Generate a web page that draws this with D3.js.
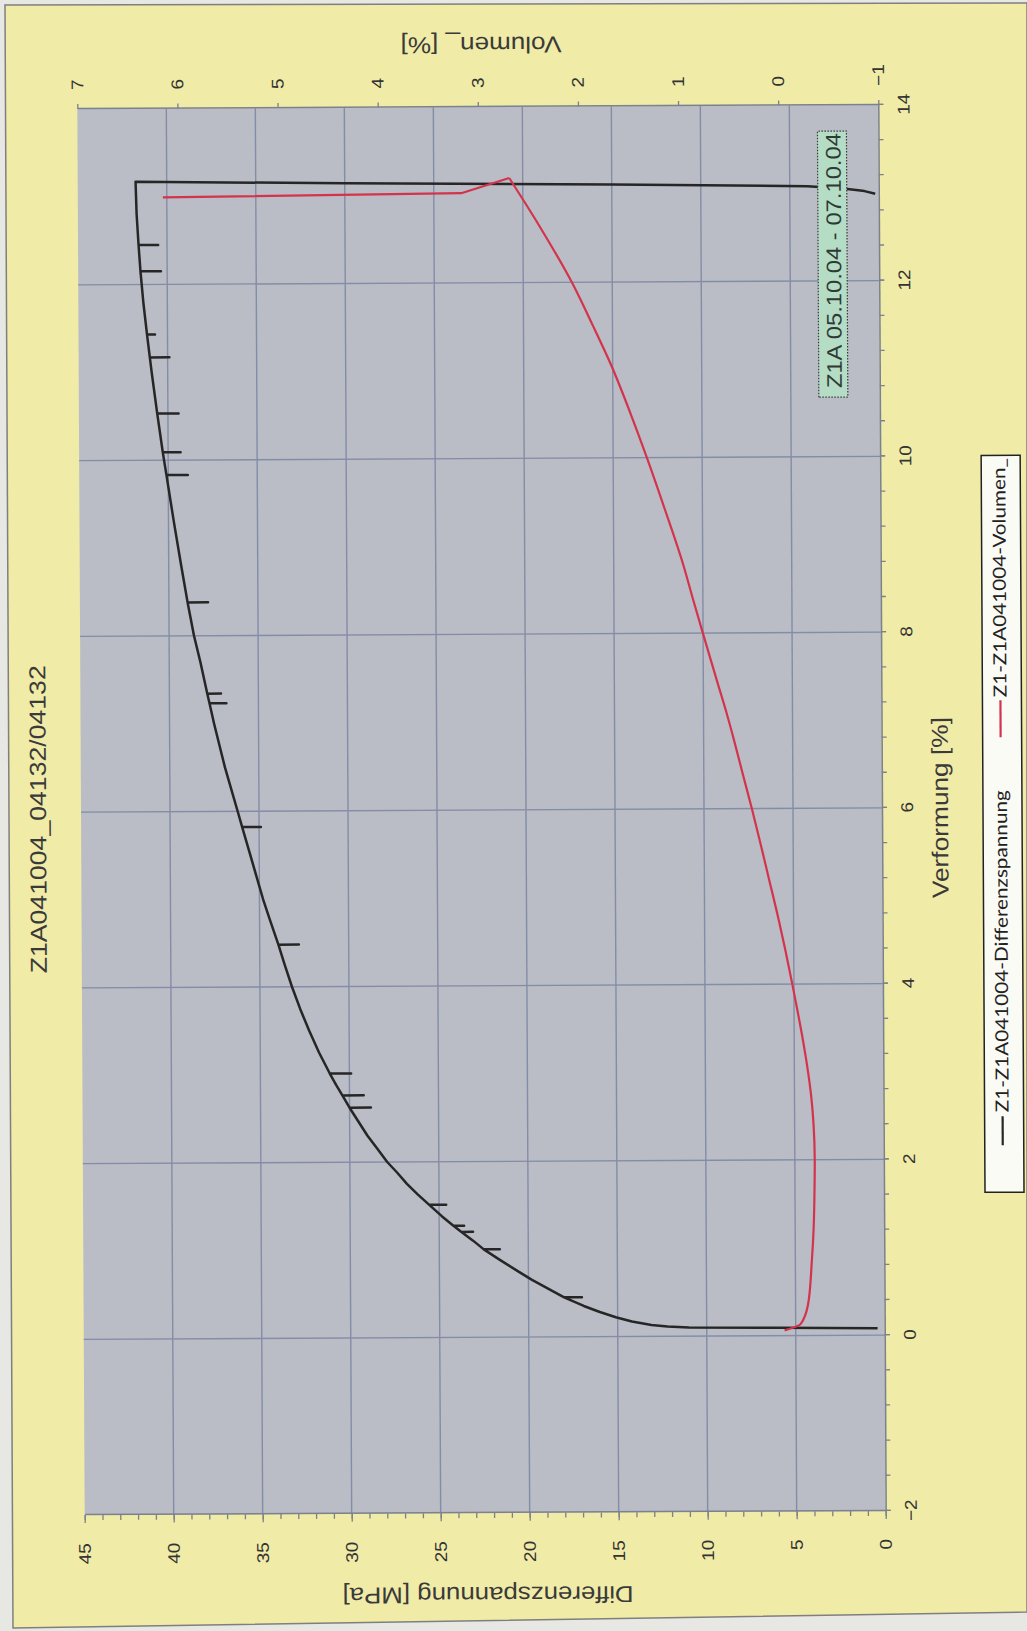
<!DOCTYPE html>
<html>
<head>
<meta charset="utf-8">
<script src="https://cdn.jsdelivr.net/npm/d3@7"></script>
<style>
  body { margin: 0; background: #ffffff; }
  svg { display: block; }
</style>
</head>
<body>
<svg id="chart" width="1027" height="1631"></svg>
<script>
// ---- text ----
const chartTitle = "Z1A041004_04132/04132";
const xTitle = "Verformung [%]";
const yTitle = "Differenzspannung [MPa]";
const y2Title = "Volumen_ [%]";
const seriesNames = ["Z1-Z1A041004-Differenzspannung", "Z1-Z1A041004-Volumen_"];
const noteText = "Z1A  05.10.04  -  07.10.04";

// ---- axis ticks ----
const xTicks = [-2, 0, 2, 4, 6, 8, 10, 12, 14];
const yTicks = [0, 5, 10, 15, 20, 25, 30, 35, 40, 45];
const y2Ticks = [-1, 0, 1, 2, 3, 4, 5, 6, 7];

// ---- series: Differenzspannung [MPa] over Verformung [%] (short unload dips included) ----
const spannungX = [
  0.08, 0.09, 0.10, 0.11, 0.13, 0.17, 0.22, 0.28, 0.35,
  0.45, 0.45, 0.45,
  0.55, 0.65, 0.75, 0.88,
  1.00, 1.00, 1.00,
  1.10,
  1.20, 1.20, 1.20,
  1.27, 1.27, 1.27,
  1.38,
  1.51, 1.51, 1.51,
  1.63, 1.75, 1.88, 2.00, 2.15, 2.30, 2.46,
  2.62, 2.62, 2.62,
  2.76, 2.76, 2.76,
  2.88,
  3.01, 3.01, 3.01,
  3.25, 3.50, 3.75, 4.00, 4.25,
  4.48, 4.48, 4.48,
  4.75, 5.00, 5.25, 5.50,
  5.82, 5.82, 5.82,
  6.00, 6.25, 6.50, 6.75, 7.00,
  7.23, 7.23, 7.23,
  7.34, 7.34, 7.34,
  7.70, 8.00,
  8.38, 8.38, 8.38,
  8.80, 9.30,
  9.83, 9.83, 9.83,
  10.09, 10.09, 10.09,
  10.53, 10.53, 10.53,
  11.00,
  11.17, 11.17, 11.17,
  11.43, 11.43, 11.43,
  11.80,
  12.15, 12.15, 12.15,
  12.45, 12.45, 12.45,
  12.80, 13.17,
  13.14, 13.11, 13.08, 13.05, 13.02, 12.99
];
const spannungY = [
  0.4, 6.0, 11.0, 12.2, 13.1, 14.2, 15.1, 16.0, 16.9,
  18.0, 17.0, 18.0,
  18.9, 19.8, 20.6, 21.6,
  22.5, 21.6, 22.5,
  23.1,
  23.75, 23.1, 23.75,
  24.2, 23.6, 24.2,
  24.85,
  25.55, 24.6, 25.55,
  26.2, 26.8, 27.35, 27.9, 28.45, 29.0, 29.5,
  30.0, 28.8, 30.0,
  30.4, 29.2, 30.4,
  30.75,
  31.1, 29.9, 31.1,
  31.7, 32.25, 32.75, 33.2, 33.6,
  33.95, 32.8, 33.95,
  34.4, 34.8, 35.15, 35.5,
  35.95, 34.9, 35.95,
  36.2, 36.55, 36.9, 37.2, 37.5,
  37.75, 36.8, 37.75,
  37.87, 37.1, 37.87,
  38.25, 38.6,
  38.95, 37.8, 38.95,
  39.3, 39.7,
  40.1, 38.9, 40.1,
  40.3, 39.3, 40.3,
  40.6, 39.4, 40.6,
  40.9,
  41.0, 39.9, 41.0,
  41.15, 40.7, 41.15,
  41.35,
  41.5, 40.35, 41.5,
  41.6, 40.5, 41.6,
  41.7, 41.75,
  30.0, 15.0, 4.0, 2.0, 0.8, 0.2
];

// ---- series: Volumen_ [%] over Verformung [%] ----
const volumenX = [
  0.06, 0.13, 0.35, 0.84, 1.21, 1.60, 2.00, 2.40, 2.70, 3.10, 3.35, 3.70, 4.00,
  4.40, 4.72, 5.21, 5.60, 6.00, 6.40, 6.76, 7.10, 7.45, 8.00, 8.40, 8.77, 9.40,
  10.00, 10.50, 11.05, 11.50, 12.00, 12.64, 13.19, 13.02, 12.99
];
const volumenY = [
  0.00, -0.16, -0.235, -0.275, -0.295, -0.305, -0.31, -0.30, -0.28, -0.235, -0.20, -0.145, -0.095,
  -0.025, 0.035, 0.135, 0.215, 0.30, 0.39, 0.47, 0.55, 0.64, 0.78, 0.88, 0.97, 1.15,
  1.33, 1.49, 1.68, 1.86, 2.07, 2.39, 2.69, 3.17, 6.15
];

// ---- layout (chart drawn upright, then turned onto the sheet) ----
const PL = 118, PT = 81, PW = 1406, PH = 801;
const axisColor = "#7b818d";
const gridColor = "#848da6";
const textColor = "#333333";
const stretch = 1.12;

const x = d3.scaleLinear().domain([-2, 14]).range([PL, PL + PW]);
const y = d3.scaleLinear().domain([0, 45]).range([PT + PH, PT]);
const y2 = d3.scaleLinear().domain([-1, 7]).range([PT + PH, PT]);

const svg = d3.select("#chart");

// sheet
svg.append("rect").attr("width", 1027).attr("height", 1631).attr("fill", "#e7e7e3");
svg.append("polygon")
  .attr("points", "5,5 1027,3 1027,1612 13,1628")
  .attr("fill", "#f0eba7")
  .attr("stroke", "#7f7f7f")
  .attr("stroke-width", 1.5);

const g = svg.append("g")
  .attr("transform", "rotate(-0.3 481.5 810) translate(0 1631) rotate(-90)");

// plot area
g.append("rect")
  .attr("x", PL).attr("y", PT).attr("width", PW).attr("height", PH)
  .attr("fill", "#babcc6");

// gridlines
g.append("g").selectAll("line")
  .data(xTicks.filter(v => v > -2 && v < 14))
  .join("line")
  .attr("x1", d => x(d)).attr("x2", d => x(d))
  .attr("y1", PT).attr("y2", PT + PH)
  .attr("stroke", gridColor).attr("stroke-width", 1.4);

g.append("g").selectAll("line")
  .data(yTicks.filter(v => v > 0 && v < 45))
  .join("line")
  .attr("x1", PL).attr("x2", PL + PW)
  .attr("y1", d => y(d)).attr("y2", d => y(d))
  .attr("stroke", gridColor).attr("stroke-width", 1.4);

function styleAxis(sel) {
  sel.select(".domain").attr("stroke", axisColor).attr("stroke-width", 1.5);
  sel.selectAll(".tick line").attr("stroke", axisColor).attr("stroke-width", 1.3);
  sel.selectAll(".tick text")
    .attr("fill", textColor)
    .style("font-family", "'Liberation Sans', Arial, sans-serif")
    .style("font-size", "17px");
}

// Verformung axis (minor ticks every 0.4, labels every 2)
const minorX = d3.range(41).map(i => -2 + i * 0.4);
const gxMinor = g.append("g").attr("transform", `translate(0,${PT + PH})`)
  .call(d3.axisBottom(x).tickValues(minorX).tickSize(5).tickSizeOuter(0).tickFormat(""));
styleAxis(gxMinor);
const gx = g.append("g").attr("transform", `translate(0,${PT + PH})`)
  .call(d3.axisBottom(x).tickValues(xTicks).tickSize(5).tickSizeOuter(0).tickPadding(14).tickFormat(d3.format("d")));
styleAxis(gx);
gx.select(".domain").remove();
gx.selectAll(".tick text").attr("transform", `scale(${stretch},1)`);

// Differenzspannung axis (minor ticks every 1 MPa)
const gyMinor = g.append("g").attr("transform", `translate(${PL},0)`)
  .call(d3.axisLeft(y).tickValues(d3.range(46)).tickSize(5).tickSizeOuter(0).tickFormat(""));
styleAxis(gyMinor);
const gy = g.append("g").attr("transform", `translate(${PL},0)`)
  .call(d3.axisLeft(y).tickValues(yTicks).tickSize(8).tickSizeOuter(0).tickPadding(14).tickFormat(d3.format("d")));
styleAxis(gy);
gy.select(".domain").remove();
gy.selectAll(".tick text")
  .attr("x", -28 / stretch)
  .attr("transform", `scale(${stretch},1)`);

// Volumen axis
const gy2 = g.append("g").attr("transform", `translate(${PL + PW},0)`)
  .call(d3.axisRight(y2).tickValues(y2Ticks).tickSize(5).tickSizeOuter(0).tickPadding(14).tickFormat(d3.format("d")));
styleAxis(gy2);
gy2.selectAll(".tick text")
  .attr("x", 19 / stretch)
  .attr("transform", `scale(${stretch},1)`);

// titles
const titleFont = "'Liberation Sans', Arial, sans-serif";
function addText(parent, str, tx, ty, rot, len, size) {
  return parent.append("text")
    .attr("transform", `translate(${tx},${ty})` + (rot ? ` rotate(${rot})` : ""))
    .attr("text-anchor", "middle")
    .attr("textLength", len)
    .attr("lengthAdjust", "spacingAndGlyphs")
    .attr("fill", "#3a3a3a")
    .style("font-family", titleFont)
    .style("font-size", size + "px")
    .text(str);
}
addText(g, chartTitle, 814, 46, 0, 308, 23);
addText(g, xTitle, 821, 948, 0, 181, 23);
addText(g, yTitle, 44, 484, -90, 291, 23);
addText(g, y2Title, 1594, 485, -90, 161, 23);

// series
const spannung = spannungX.map((v, i) => [v, spannungY[i]]);
const volumen = volumenX.map((v, i) => [v, volumenY[i]]);
const peak = d3.maxIndex(volumenX);

g.append("path")
  .datum(spannung)
  .attr("d", d3.line().x(d => x(d[0])).y(d => y(d[1])))
  .attr("fill", "none")
  .attr("stroke", "#262626")
  .attr("stroke-width", 2.5)
  .attr("stroke-linejoin", "round");

// rising branch drawn smooth, final turn-back drawn straight
const volG = g.append("g")
  .attr("fill", "none")
  .attr("stroke", "#d3344c")
  .attr("stroke-width", 2.2)
  .attr("stroke-linejoin", "round");
volG.append("path")
  .datum(volumen.slice(0, peak + 1))
  .attr("d", d3.line().curve(d3.curveMonotoneX).x(d => x(d[0])).y(d => y2(d[1])));
volG.append("path")
  .datum(volumen.slice(peak))
  .attr("d", d3.line().x(d => x(d[0])).y(d => y2(d[1])));

// date note
g.append("rect")
  .attr("x", 1232).attr("y", 821).attr("width", 266).attr("height", 29)
  .attr("fill", "#b5dcc5")
  .attr("stroke", "#3a3a3a")
  .attr("stroke-width", 1.2)
  .attr("stroke-dasharray", "1.5,1.5");
g.append("text")
  .attr("x", 1241).attr("y", 844)
  .attr("textLength", 255)
  .attr("lengthAdjust", "spacingAndGlyphs")
  .attr("fill", "#2f3a34")
  .style("font-family", titleFont)
  .style("font-size", "21px")
  .text(noteText);

// legend
const lg = g.append("g");
lg.append("rect")
  .attr("x", 436).attr("y", 983).attr("width", 737).attr("height", 39)
  .attr("fill", "#fbfbf6")
  .attr("stroke", "#222")
  .attr("stroke-width", 1.5);
const legendItems = [
  { name: seriesNames[0], color: "#262626", x0: 483, x1: 512, tx: 516 },
  { name: seriesNames[1], color: "#d3344c", x0: 891, x1: 928, tx: 931 }
];
lg.selectAll("line.key").data(legendItems).join("line")
  .attr("class", "key")
  .attr("x1", d => d.x0).attr("x2", d => d.x1)
  .attr("y1", 1001).attr("y2", 1001)
  .attr("stroke", d => d.color).attr("stroke-width", 2.2);
const legendTexts = lg.selectAll("text").data(legendItems).join("text")
  .attr("x", d => d.tx).attr("y", 1007)
  .attr("fill", "#222")
  .style("font-family", "Lato, 'Open Sans', sans-serif")
  .style("font-size", "18px")
  .text(d => d.name);
// scale both entries by the same factor so the first one spans its measured width
const nodes = legendTexts.nodes();
const k = 322 / nodes[0].getComputedTextLength();
nodes.forEach(n => {
  const w = n.getComputedTextLength() * k;
  n.setAttribute("textLength", w);
  n.setAttribute("lengthAdjust", "spacingAndGlyphs");
});
</script>
</body>
</html>
